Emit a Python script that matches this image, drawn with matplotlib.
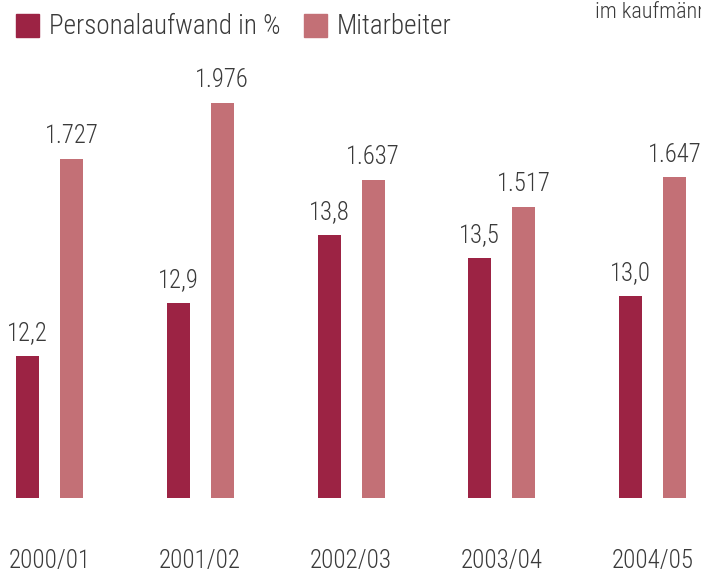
import matplotlib.pyplot as plt
import numpy as np
from matplotlib import font_manager
from matplotlib.patches import Rectangle

# ---------------------------------------------------------
# Daten
# ---------------------------------------------------------

jahre = ["2000/01", "2001/02", "2002/03", "2003/04", "2004/05"]
personalaufwand = [12.2, 12.9, 13.8, 13.5, 13.0]
mitarbeiter = [1727, 1976, 1637, 1517, 1647]

label_aufwand = ["12,2", "12,9", "13,8", "13,5", "13,0"]
label_mitarbeiter = ["1.727", "1.976", "1.637", "1.517", "1.647"]

dunkel = "#9c2344"
hell = "#c37076"
textfarbe = "#3a3a3a"

# schmale / leichte Schrift suchen
fonts = font_manager.fontManager.ttflist
namen = {f.name for f in fonts}
schrift = "Roboto"
for kandidat in ["Liberation Sans Narrow", "Roboto Condensed", "Open Sans Condensed", "Roboto"]:
    if kandidat in namen:
        schrift = kandidat
        break
leicht = any(f.name == schrift and f.weight in (300, "light") for f in fonts)
gewicht = "light" if leicht else "normal"

plt.rcParams["font.family"] = [schrift, "DejaVu Sans"]
plt.rcParams["font.weight"] = gewicht

W, H = 701, 572
fig = plt.figure(figsize=(W / 100, H / 100), dpi=100)

# Achse: Basislinie bei 498 px von oben
ax = fig.add_axes([0, (H - 498) / H, 1, 498 / H])
ax2 = ax.twinx()

abstand = 150.75
x = np.arange(len(jahre))
breite = 23 / abstand
versatz = 22 / abstand

ax.set_xlim(-49.5 / abstand, (W - 49.5) / abstand)
ax.set_ylim(10.33, 10.33 + 498 / 75.8)
ax2.set_ylim(232.5, 232.5 + 498 / 0.2266)

balken1 = ax.bar(x - versatz, personalaufwand, breite, color=dunkel, zorder=2)
balken2 = ax2.bar(x + versatz, mitarbeiter, breite, color=hell, zorder=2)

for b, t in zip(balken1, label_aufwand):
    ax.annotate(t, (b.get_x() + b.get_width() / 2, b.get_height()),
                xytext=(0, 11.5), textcoords="offset points",
                ha="center", va="baseline", fontsize=17.7, color=textfarbe)

for b, t in zip(balken2, label_mitarbeiter):
    ax2.annotate(t, (b.get_x() + b.get_width() / 2, b.get_height()),
                 xytext=(0, 11.5), textcoords="offset points",
                 ha="center", va="baseline", fontsize=17.7, color=textfarbe,
                 annotation_clip=False)

ax.set_xticks(x)
ax.set_xticklabels(jahre, fontsize=18, color=textfarbe, va="baseline")
ax.tick_params(axis="x", length=0, pad=50.5)
ax.set_yticks([])
ax2.set_yticks([])

for a in (ax, ax2):
    for s in a.spines.values():
        s.set_visible(False)
    a.patch.set_visible(False)

# Legende
for xp, farbe, text in [(16, dunkel, "Personalaufwand in %"),
                        (304, hell, "Mitarbeiter")]:
    fig.patches.append(Rectangle((xp / W, (H - 37) / H), 23 / W, 23 / H,
                                 transform=fig.transFigure, color=farbe))
    fig.text((xp + 33) / W, (H - 34) / H, text, fontsize=19.5,
             color=textfarbe, va="baseline", ha="left")

fig.text(595 / W, (H - 18.5) / H, "im kaufmännischen Bereich", fontsize=16,
         color=textfarbe, va="baseline", ha="left")

plt.savefig("out.png", dpi=100)
plt.close()
